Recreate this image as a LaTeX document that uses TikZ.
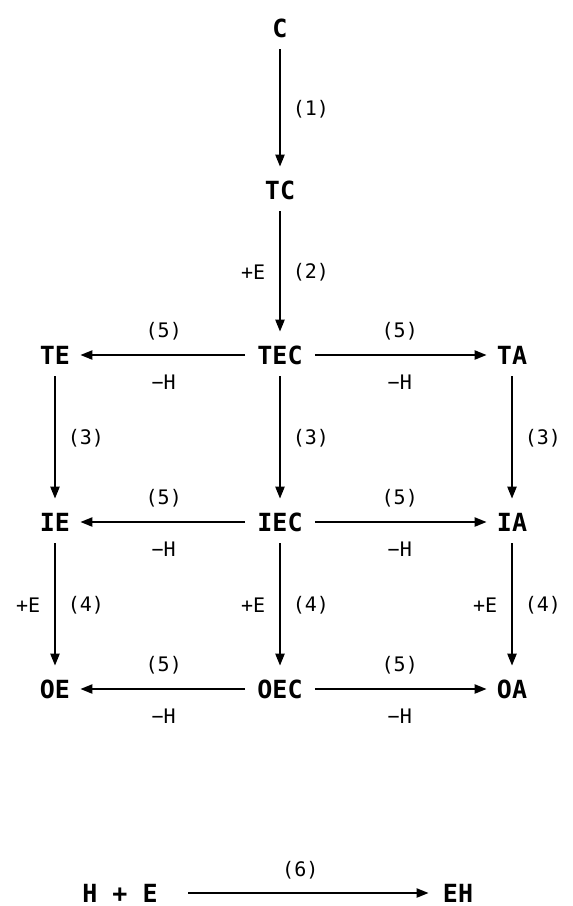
\documentclass[tikz,border=0pt]{standalone}
\usepackage{fontspec}
\setmonofont{DejaVu Sans Mono}
\usetikzlibrary{arrows.meta}

\begin{document}
\begin{tikzpicture}[
    x=0.5pt, y=-0.5pt,
    species/.style={font=\ttfamily\bfseries\fontsize{12.5}{14}\selectfont, inner sep=0pt, text height=9pt, text depth=0pt},
    rxn/.style={font=\ttfamily\fontsize{10}{12}\selectfont, inner sep=0pt},
    conv/.style={-{Triangle[length=6pt,width=4.6pt]}, line width=0.9pt},
    vconv/.style={conv, shorten <=6pt, shorten >=7pt},
    hconv/.style={conv, shorten <=6pt, shorten >=5pt}
]
\useasboundingbox (0,0) rectangle (573,906);

% Species
\node[species] (C) at (280,28) {C};
\node[species] (TC) at (280,190) {TC};
\node[species] (TE) at (55,355) {TE};
\node[species] (TEC) at (280,355) {TEC};
\node[species] (TA) at (512,355) {TA};
\node[species] (IE) at (55,522) {IE};
\node[species] (IEC) at (280,522) {IEC};
\node[species] (IA) at (512,522) {IA};
\node[species] (OE) at (55,689) {OE};
\node[species] (OEC) at (280,689) {OEC};
\node[species] (OA) at (512,689) {OA};

% Steps (1) and (2)
\draw[vconv] (C) -- node[rxn, right=6pt] {(1)} (TC);
\draw[vconv] (TC) -- node[rxn, right=6pt] {(2)} node[rxn, left=7pt] {+E} (TEC);

% Steps (3)
\foreach \src/\dst in {TE/IE, TEC/IEC, TA/IA} {
    \draw[vconv] (\src) -- node[rxn, right=6pt] {(3)} (\dst);
}

% Steps (4)
\foreach \src/\dst in {IE/OE, IEC/OEC, IA/OA} {
    \draw[vconv] (\src) -- node[rxn, right=6pt] {(4)} node[rxn, left=7pt] {+E} (\dst);
}

% Steps (5)
\foreach \row in {T,I,O} {
    \draw[hconv] (\row EC) -- node[rxn, yshift=12pt] {(5)} node[rxn, yshift=-13.5pt] {−H} (\row E);
    \draw[hconv] (\row EC) -- node[rxn, yshift=12pt] {(5)} node[rxn, yshift=-13.5pt] {−H} (\row A);
}

% Step (6)
\node[species] (HE) at (120,893) {H + E};
\node[species] (EH) at (458,893) {EH};
\draw[conv, shorten <=15pt, shorten >=7pt] (HE) -- node[rxn, yshift=11.5pt] {(6)} (EH);

\end{tikzpicture}
\end{document}
